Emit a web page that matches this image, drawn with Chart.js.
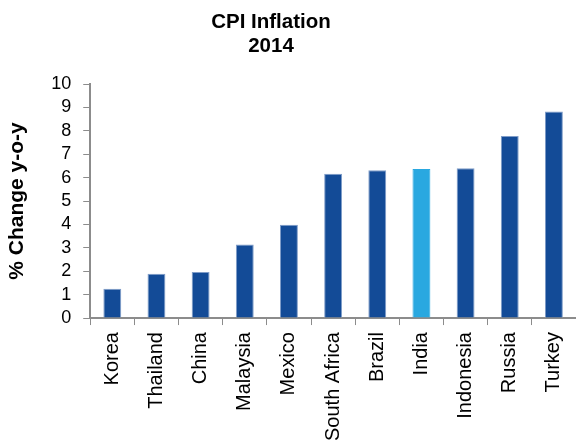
<!DOCTYPE html>
<html>
<head>
<meta charset="utf-8">
<script src="https://cdn.jsdelivr.net/npm/chart.js@4"></script>
<style>
  body { margin: 0; background: #fff; }
  #wrap { position: relative; width: 576px; height: 448px; }
  #title {
    position: absolute; left: 0; top: 9px; width: 542px;
    text-align: center; font: bold 20.5px/24px "Liberation Sans", Arial, sans-serif; color: #000;
  }
</style>
</head>
<body>
<div id="wrap">
  <canvas id="myChart" width="576" height="448"></canvas>
  <div id="title">CPI Inflation<br>2014</div>
</div>
<script>
const countries = ['Korea', 'Thailand', 'China', 'Malaysia', 'Mexico', 'South Africa',
    'Brazil', 'India', 'Indonesia', 'Russia', 'Turkey'];
const inflation = [1.25, 1.89, 1.97, 3.14, 3.99, 6.17, 6.32, 6.37, 6.4, 7.78, 8.82];
const highlight = 'India';

const darkBlue = '#134b97';
const lightBlue = '#29a8e0';
const axisGrey = '#8c8c8c';

// India stands out in the lighter blue
const barColors = countries.map(c => c === highlight ? lightBlue : darkBlue);
const edgeColors = countries.map(c => c === highlight ? lightBlue : '#7f9cc8');

Chart.defaults.font.family = '"Liberation Sans", Arial, sans-serif';
Chart.defaults.color = '#000';

const chrt = document.getElementById('myChart');
new Chart(chrt, {
    type: 'bar',
    data: {
        labels: countries,
        datasets: [{
            data: inflation,
            backgroundColor: barColors,
            borderColor: edgeColors,
            borderWidth: { top: 1, left: 1, right: 1, bottom: 0 },
            categoryPercentage: 1,
            barPercentage: 0.405
        }]
    },
    options: {
        responsive: false,
        animation: false,
        layout: { padding: { top: 84, right: 0, left: 2, bottom: 0 } },
        plugins: {
            legend: { display: false },
            tooltip: { enabled: false }
        },
        scales: {
            y: {
                min: 0,
                max: 10,
                ticks: { stepSize: 1, autoSkip: false, font: { size: 18 }, padding: 12 },
                grid: { drawOnChartArea: false, color: axisGrey, tickLength: 7 },
                border: { color: axisGrey, width: 2 },
                title: {
                    display: true,
                    text: '% Change y-o-y', // y-axis label
                    font: { size: 21, weight: 'bold' },
                    padding: { top: 3, bottom: 9 }
                }
            },
            x: {
                ticks: { font: { size: 20 }, minRotation: 90, maxRotation: 90, padding: 7 },
                grid: { drawOnChartArea: false, color: axisGrey, tickLength: 7, offset: true },
                border: { color: axisGrey, width: 2 },
                // let the last category run right up to the edge
                afterFit: (scale) => { scale.paddingRight = 0; }
            }
        }
    }
});
</script>
</body>
</html>
